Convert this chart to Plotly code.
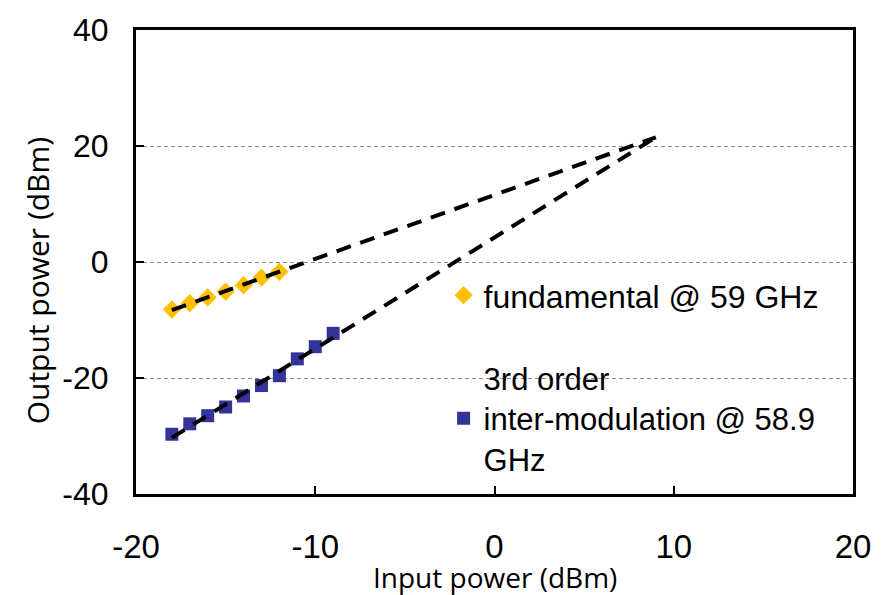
import plotly.graph_objects as go

# Data
fund_x = [-18, -17, -16, -15, -14, -13, -12]
fund_y = [-8.2, -7.1, -6.1, -5.1, -4.0, -2.7, -1.7]

im3_x = [-18, -17, -16, -15, -14, -13, -12, -11, -10, -9]
im3_y = [-29.7, -27.9, -26.5, -25.0, -23.1, -21.3, -19.6, -16.7, -14.6, -12.3]

fund_fit_x = [-18, 9]
fund_fit_y = [-8.3, 21.5]
im3_fit_x = [-18, 9]
im3_fit_y = [-30.3, 21.5]

x_ticks = [-20, -10, 0, 10, 20]
y_ticks = [-40, -20, 0, 20, 40]

ARIAL = "Liberation Sans, Arial, sans-serif"
TITLEF = "Open Sans, Noto Sans, sans-serif"

fig = go.Figure()

fig.add_trace(go.Scatter(
    x=fund_x, y=fund_y, mode="markers", name="fundamental @ 59 GHz",
    marker=dict(symbol="diamond", size=14, color="#FFC000", line=dict(width=0)),
    legend="legend",
))
fig.add_trace(go.Scatter(
    x=im3_x, y=im3_y, mode="markers",
    name="3rd order<br>inter-modulation @ 58.9<br>GHz",
    marker=dict(symbol="square", size=13, color="#333399", line=dict(width=0)),
    legend="legend2",
))
fig.add_trace(go.Scatter(
    x=fund_fit_x, y=fund_fit_y, mode="lines", showlegend=False,
    line=dict(color="black", width=4, dash="15px,10px"),
))
fig.add_trace(go.Scatter(
    x=im3_fit_x, y=im3_fit_y, mode="lines", showlegend=False,
    line=dict(color="black", width=4, dash="15px,10px"),
))

fig.update_layout(
    width=883, height=595,
    margin=dict(l=136, r=26, t=22, b=101),
    plot_bgcolor="white", paper_bgcolor="white",
    font=dict(family=ARIAL, size=31, color="black"),
    legend=dict(
        x=0.429, y=0.428, xanchor="left", yanchor="middle",
        bgcolor="rgba(0,0,0,0)", borderwidth=0,
        font=dict(family=ARIAL, size=32, color="black"),
    ),
    legend2=dict(
        x=0.429, y=0.163, xanchor="left", yanchor="middle",
        bgcolor="rgba(0,0,0,0)", borderwidth=0, valign="middle",
        font=dict(family=ARIAL, size=31, color="black"),
    ),
    xaxis=dict(
        range=[-20, 20], tickvals=x_ticks, ticktext=[str(v) for v in x_ticks],
        showgrid=False, zeroline=False,
        showline=True, linecolor="black", linewidth=3, mirror=True,
        ticks="inside", ticklen=8, tickwidth=2, tickcolor="black",
        ticklabelstandoff=21,
        tickfont=dict(family=ARIAL, size=33, color="black"),
    ),
    yaxis=dict(
        range=[-40, 40], tickvals=y_ticks, ticktext=[str(v) for v in y_ticks],
        showgrid=True, gridcolor="#8c8c8c", gridwidth=1, griddash="4px,3px",
        zeroline=False,
        showline=True, linecolor="black", linewidth=3, mirror=True,
        ticks="inside", ticklen=8, tickwidth=2, tickcolor="black",
        ticklabelstandoff=18,
        tickfont=dict(family=ARIAL, size=32, color="black"),
    ),
    annotations=[
        dict(text="Input power (dBm)", xref="paper", yref="paper",
             x=0.5, y=-0.178, xanchor="center", yanchor="middle",
             showarrow=False, font=dict(family=TITLEF, size=28, color="black")),
        dict(text="Output power (dBm)", xref="paper", yref="paper",
             x=-0.137, y=0.46, xanchor="center", yanchor="middle", textangle=-90,
             showarrow=False, font=dict(family=TITLEF, size=30, color="black")),
    ],
)

fig.write_html("out.html")
